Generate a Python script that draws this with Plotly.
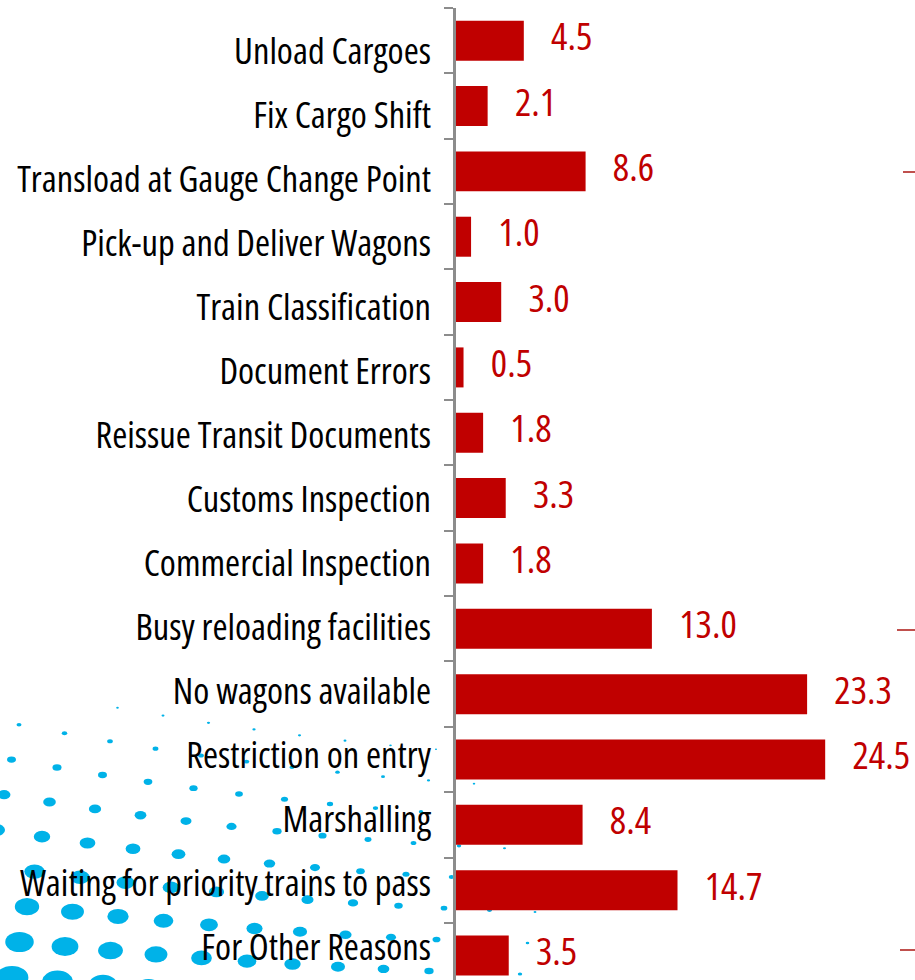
import plotly.graph_objects as go

# ---- data ----
categories = [
    "Unload Cargoes", "Fix Cargo Shift", "Transload at Gauge Change Point",
    "Pick-up and Deliver Wagons", "Train Classification", "Document Errors",
    "Reissue Transit Documents", "Customs Inspection", "Commercial Inspection",
    "Busy reloading facilities", "No wagons available", "Restriction on entry",
    "Marshalling", "Waiting for priority trains to pass", "For Other Reasons",
]
values = [4.5, 2.1, 8.6, 1.0, 3.0, 0.5, 1.8, 3.3, 1.8, 13.0, 23.3, 24.5, 8.4, 14.7, 3.5]
value_labels = [f"{v:.1f}" for v in values]

W, H = 915, 980
FONT = "Open Sans, Roboto Condensed, sans-serif"
RED = "#C00000"
GREY = "#8C8C8C"

def px_x(p):
    return p / W

def px_y(p):
    return 1 - p / H

fig = go.Figure()

fig.add_trace(go.Bar(
    y=categories, x=values, orientation="h",
    marker=dict(color=RED, line=dict(width=0)),
    hoverinfo="x+y", showlegend=False,
))
# value labels (invisible markers give the gap between bar end and text)
fig.add_trace(go.Scatter(
    y=categories, x=values, mode="markers+text",
    text=value_labels, textposition="middle right",
    marker=dict(size=42, color="rgba(0,0,0,0)"),
    textfont=dict(family=FONT, size=38.5, color=RED, weight=500),
    cliponaxis=False, hoverinfo="skip", showlegend=False,
))
# invisible trace to carry the label axis
fig.add_trace(go.Scatter(x=[None], y=[None], xaxis="x", yaxis="y2",
                         showlegend=False, hoverinfo="skip"))

# decorative halftone dots (background ornament, lower-left)
shapes = []
for r in range(-1, 9):
    Y0 = 721 + 36.5 * r
    slope = 0.2 - 0.016 * r
    x0 = 19 - 7.5 * r
    for k in range(-1, 14):
        x = x0 + 45.5 * k
        if x < -15 or x > 620:
            continue
        y = Y0 + slope * x * (1 - x / 1400)
        a = 4 + (y - 725) * 0.086
        d = a * (1 - x / 600)
        if d < 1.6:
            continue
        w, h = d * 1.3, d * 0.92
        shapes.append(dict(
            type="circle", xref="paper", yref="paper", layer="below",
            x0=px_x(x - w / 2), x1=px_x(x + w / 2),
            y0=px_y(y + h / 2), y1=px_y(y - h / 2),
            fillcolor="#00B2E8", line=dict(width=0),
        ))

# small red marks on the right edge
for yy, xs in [(172, 903), (630, 897), (950, 900)]:
    shapes.append(dict(type="line", xref="paper", yref="paper",
                       x0=px_x(xs), x1=1, y0=px_y(yy), y1=px_y(yy),
                       line=dict(color="#C0504D", width=2)))

x_left = 456
fig.update_layout(
    template="none",
    width=W, height=H,
    margin=dict(l=0, r=0, t=0, b=0),
    paper_bgcolor="white", plot_bgcolor="rgba(0,0,0,0)",
    bargap=0.388,
    showlegend=False,
    xaxis=dict(domain=[px_x(x_left), 1], range=[0, 30.46], visible=False,
               fixedrange=True),
    yaxis=dict(
        domain=[0, px_y(8)], type="category",
        categoryorder="array", categoryarray=categories[::-1],
        range=[-0.374, 14.5],
        showticklabels=False, ticks="outside", tickson="boundaries",
        ticklen=9, tickwidth=2, tickcolor=GREY,
        showline=True, linecolor=GREY, linewidth=2.5,
        showgrid=False, zeroline=False, automargin=False,
    ),
    yaxis2=dict(
        domain=[px_y(979), px_y(19)], anchor="x",
        range=[-0.5, 14.5],
        tickmode="array", tickvals=list(range(len(categories))),
        ticktext=categories[::-1],
        ticks="", ticklabelstandoff=24,
        showline=False, showgrid=False, zeroline=False, automargin=False,
        tickfont=dict(family=FONT, size=36.5, color="black", weight=500),
    ),
    shapes=shapes,
)

# page without body margin; condensed width of the sans font
js = """
document.body.style.margin='0';
document.querySelectorAll('.main-svg text').forEach(function(t){
  t.style.fontStretch = '75%';
});
"""
fig.write_html("out.html", post_script=js, config={"displayModeBar": False})
